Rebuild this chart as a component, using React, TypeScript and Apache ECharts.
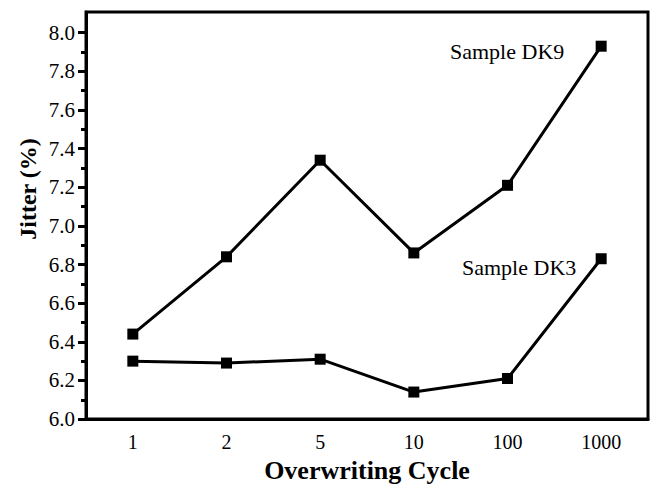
import React, { useEffect, useRef } from "react";
import * as echarts from "echarts";

const categories = ["1", "2", "5", "10", "100", "1000"];
const dk9 = [6.44, 6.84, 7.34, 6.86, 7.21, 7.93];
const dk3 = [6.3, 6.29, 6.31, 6.14, 6.21, 6.83];
const yMajor = [6.0, 6.2, 6.4, 6.6, 6.8, 7.0, 7.2, 7.4, 7.6, 7.8, 8.0];
const yMinor = [6.1, 6.3, 6.5, 6.7, 6.9, 7.1, 7.3, 7.5, 7.7, 7.9];

const FONT = "Liberation Serif";

export default function App() {
  const ref = useRef<HTMLDivElement>(null);
  useEffect(() => {
    if (!ref.current) return;
    const chart = echarts.init(ref.current, null, { renderer: "svg" });
    const lineStyle = { color: "#000", width: 3 };
    chart.setOption({
      animation: false,
      backgroundColor: "#fff",
      textStyle: { fontFamily: FONT },
      grid: {
        left: 86,
        right: 6,
        top: 12,
        bottom: 62,
        show: true,
        borderColor: "#000",
        borderWidth: 3,
      },
      xAxis: [
        {
          type: "category",
          data: categories,
          boundaryGap: true,
          name: "Overwriting Cycle",
          nameLocation: "middle",
          nameGap: 32,
          nameTextStyle: { fontFamily: FONT, fontWeight: "bold", fontSize: 26, color: "#000" },
          axisLine: { lineStyle },
          axisTick: { alignWithLabel: true, length: 9, lineStyle },
          axisLabel: { fontFamily: FONT, fontSize: 20, color: "#000", margin: 13 },
          splitLine: { show: false },
        },
        {
          type: "category",
          data: categories,
          boundaryGap: true,
          position: "bottom",
          axisLine: { show: false },
          axisTick: { alignWithLabel: false, length: 5, lineStyle },
          axisLabel: { show: false },
          splitLine: { show: false },
        },
      ],
      yAxis: [
        {
          type: "value",
          min: 6.0,
          max: 8.107,
          axisLine: { show: true, lineStyle },
          axisTick: { show: true, length: 8, lineStyle, customValues: yMajor },
          axisLabel: {
            fontFamily: FONT,
            fontSize: 21,
            color: "#000",
            margin: 11,
            customValues: yMajor,
            formatter: (v: number) => v.toFixed(1),
          },
          splitLine: { show: false },
        },
        {
          type: "value",
          min: 6.0,
          max: 8.107,
          position: "left",
          axisLine: { show: false },
          axisTick: { show: true, length: 5, lineStyle, customValues: yMinor },
          axisLabel: { show: false, customValues: yMinor },
          splitLine: { show: false },
        },
      ],
      series: [
        {
          name: "Sample DK9",
          type: "line",
          data: dk9,
          symbol: "rect",
          symbolSize: 11,
          lineStyle,
          itemStyle: { color: "#000" },
        },
        {
          name: "Sample DK3",
          type: "line",
          data: dk3,
          symbol: "rect",
          symbolSize: 11,
          lineStyle,
          itemStyle: { color: "#000" },
        },
      ],
      graphic: [
        {
          type: "text",
          x: 28,
          y: 189,
          rotation: Math.PI / 2,
          style: {
            text: "Jitter (%)",
            fontFamily: FONT,
            fontWeight: "bold",
            fontSize: 24,
            fill: "#000",
            align: "center",
            verticalAlign: "middle",
          },
        },
        {
          type: "text",
          x: 450,
          y: 51,
          style: { text: "Sample DK9", fontFamily: FONT, fontSize: 22, fill: "#000", verticalAlign: "middle" },
        },
        {
          type: "text",
          x: 462,
          y: 267,
          style: { text: "Sample DK3", fontFamily: FONT, fontSize: 22, fill: "#000", verticalAlign: "middle" },
        },
      ],
    });
    return () => chart.dispose();
  }, []);
  return <div ref={ref} style={{ width: 654, height: 488, position: "absolute", left: 0, top: 0 }} />;
}
